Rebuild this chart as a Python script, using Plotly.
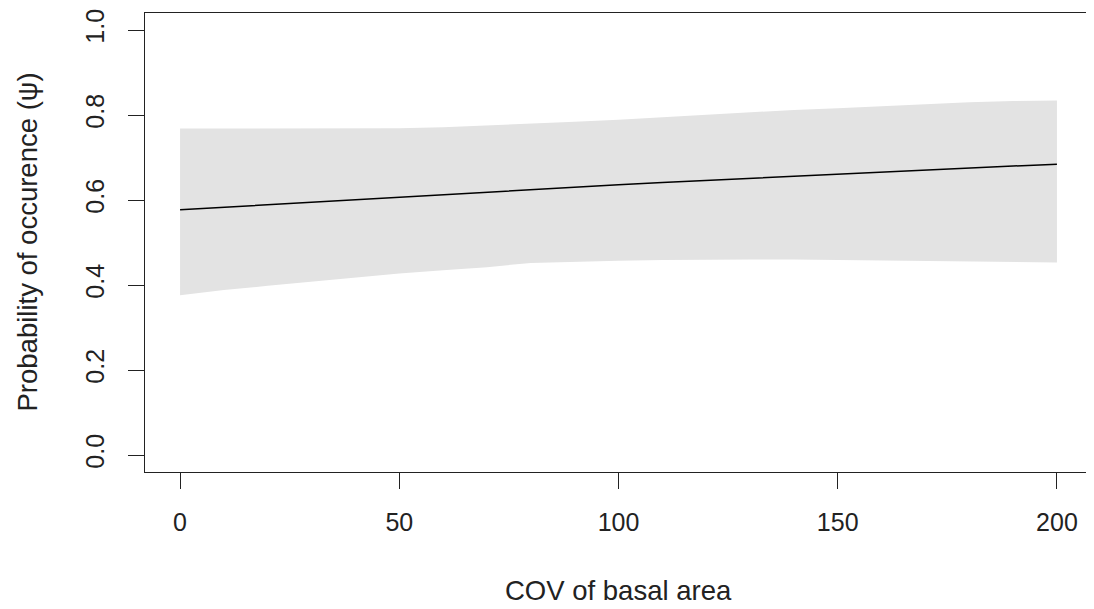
import plotly.graph_objects as go

cov = [0, 10, 20, 30, 40, 50, 60, 70, 80, 90, 100, 110, 120, 130, 140, 150, 160, 170, 180, 190, 200]
psi = [0.577, 0.583, 0.589, 0.595, 0.601, 0.607, 0.613, 0.619, 0.625, 0.631, 0.636,
       0.641, 0.646, 0.651, 0.656, 0.661, 0.666, 0.671, 0.675, 0.680, 0.684]
lower = [0.376, 0.388, 0.398, 0.408, 0.418, 0.427, 0.435, 0.442, 0.452, 0.455, 0.457,
         0.459, 0.460, 0.460, 0.460, 0.459, 0.458, 0.457, 0.455, 0.454, 0.453]
upper = [0.768, 0.768, 0.768, 0.768, 0.769, 0.769, 0.771, 0.775, 0.779, 0.784, 0.789,
         0.795, 0.800, 0.806, 0.812, 0.816, 0.821, 0.826, 0.830, 0.833, 0.834]

x_ticks = [0, 50, 100, 150, 200]
y_ticks = [0.0, 0.2, 0.4, 0.6, 0.8, 1.0]
y_tick_text = ["0.0", "0.2", "0.4", "0.6", "0.8", "1.0"]

FONT = "Liberation Sans, Arial, sans-serif"
FS = 25
FS_TITLE = 27.5

fig = go.Figure()
fig.add_trace(go.Scatter(x=cov, y=lower, mode="lines", line=dict(width=0),
                         hoverinfo="skip", showlegend=False))
fig.add_trace(go.Scatter(x=cov, y=upper, mode="lines", line=dict(width=0),
                         fill="tonexty", fillcolor="#e3e3e3",
                         hoverinfo="skip", showlegend=False))
fig.add_trace(go.Scatter(x=cov, y=psi, mode="lines",
                         line=dict(color="black", width=1.5), showlegend=False))

axis_common = dict(showgrid=False, zeroline=False, showline=True, mirror=True,
                   linecolor="#222222", linewidth=1.3, ticks="outside",
                   ticklen=16, tickwidth=1.3, tickcolor="#222222",
                   ticklabeloverflow="allow",
                   tickfont=dict(family=FONT, size=FS, color="#222222"))

# the page body has an 8px margin; the figure is sized so that it fills the window
fig.update_layout(
    width=1086, height=601,
    margin=dict(l=137, r=1, t=2, b=137),
    paper_bgcolor="white", plot_bgcolor="white",
    font=dict(family=FONT, size=FS, color="#222222"),
    xaxis=dict(range=[-8, 208], tickvals=x_ticks, ticklabelstandoff=12, **axis_common),
    yaxis=dict(range=[-0.04, 1.04], tickvals=y_ticks, ticktext=y_tick_text,
               tickangle=-90, ticklabelstandoff=14, **axis_common),
    annotations=[
        dict(text="COV of basal area", xref="paper", yref="paper", x=0.5, y=0,
             yshift=-118, xanchor="center", yanchor="middle", showarrow=False,
             font=dict(family=FONT, size=FS_TITLE, color="#222222")),
        dict(text="Probability of occurence (ψ)", xref="paper", yref="paper",
             x=0, y=0.5, xshift=-118, xanchor="center", yanchor="middle",
             textangle=-90, showarrow=False,
             font=dict(family=FONT, size=FS_TITLE, color="#222222")),
    ],
)

fig.write_html("out.html")
